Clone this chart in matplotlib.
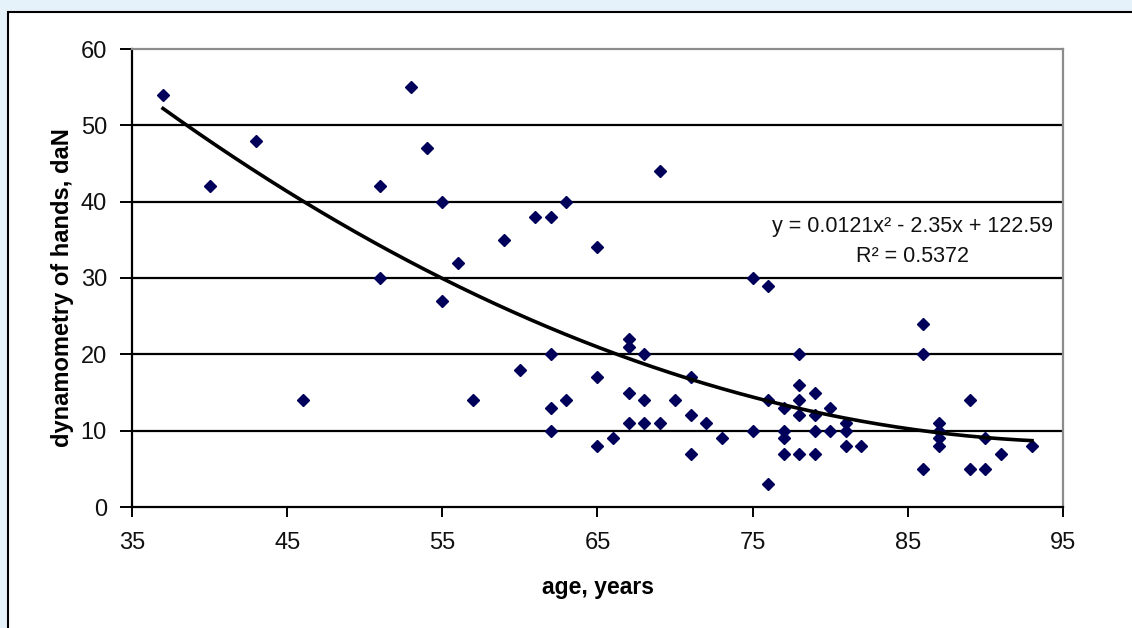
import matplotlib
matplotlib.use("Agg")
import matplotlib.pyplot as plt
import numpy as np
from matplotlib.patches import Rectangle

# ---- data ----
age = [37, 40, 43, 46, 51, 51, 53, 54, 55, 55, 56, 57, 59, 60, 61, 62,
       62, 62, 62, 63, 63, 65, 65, 65, 66, 67, 67, 67, 67, 68, 68, 68,
       69, 69, 70, 71, 71, 71, 72, 73, 75, 75, 76, 76, 76, 77, 77, 77,
       77, 78, 78, 78, 78, 78, 79, 79, 79, 79, 80, 80, 81, 81, 81, 82,
       86, 86, 86, 87, 87, 87, 87, 89, 89, 90, 90, 91, 93]
dyn = [54, 42, 48, 14, 42, 30, 55, 47, 40, 27, 32, 14, 35, 18, 38, 38,
       20, 13, 10, 40, 14, 34, 17, 8, 9, 22, 21, 15, 11, 20, 14, 11,
       44, 11, 14, 17, 12, 7, 11, 9, 30, 10, 29, 14, 3, 13, 10, 9,
       7, 20, 16, 14, 12, 7, 15, 12, 10, 7, 13, 10, 11, 10, 8, 8,
       24, 20, 5, 11, 10, 9, 8, 14, 5, 9, 5, 7, 8]

trend_coef = [0.0121, -2.35, 122.59]   # y = a x^2 + b x + c
trend_range = [37, 93]
equation_text = "y = 0.0121x² - 2.35x + 122.59\nR² = 0.5372"

x_ticks = [35, 45, 55, 65, 75, 85, 95]
y_ticks = [0, 10, 20, 30, 40, 50, 60]
x_label = "age, years"
y_label = "dynamometry of hands, daN"

plt.rcParams['font.family'] = ['Liberation Sans', 'DejaVu Sans']

W, H = 1132, 628
fig = plt.figure(figsize=(W / 100, H / 100), dpi=100)
fig.patch.set_facecolor('#e6f2fa')

# background axes with the outer chart frame
bg = fig.add_axes([0, 0, 1, 1], zorder=-1)
bg.set_xlim(0, W)
bg.set_ylim(H, 0)
bg.axis('off')
bg.add_patch(Rectangle((8, 12), W + 20, H + 20, facecolor='white',
                       edgecolor='black', linewidth=1.5))

ax = fig.add_axes([132 / W, (H - 507) / H, (1063 - 132) / W, (507 - 49) / H],
                  zorder=1)
ax.set_facecolor('white')
ax.set_xlim(x_ticks[0], x_ticks[-1])
ax.set_ylim(y_ticks[0], y_ticks[-1])
ax.set_xticks(x_ticks)
ax.set_yticks(y_ticks)

# gridlines
for yv in y_ticks[1:-1]:
    ax.axhline(yv, color='black', linewidth=1.6, zorder=1)

for side in ['top', 'right']:
    ax.spines[side].set_color('#8c8c8c')
    ax.spines[side].set_linewidth(1.6)
for side in ['left', 'bottom']:
    ax.spines[side].set_color('black')
    ax.spines[side].set_linewidth(1.6)

ax.tick_params(axis='both', direction='out', color='black', width=1.4,
               labelsize=17, labelcolor='#111111')
ax.tick_params(axis='y', length=9, pad=9)
ax.tick_params(axis='x', length=7, pad=11)

# scatter
ax.plot(age, dyn, linestyle='none', marker='D', markersize=6.5,
        color='#00005a', zorder=3, clip_on=False)

# trendline
xs = np.linspace(trend_range[0], trend_range[1], 200)
ys = np.polyval(trend_coef, xs)
ax.plot(xs, ys, color='black', linewidth=2.6, zorder=4)

ax.text(85.3, 34.8, equation_text, ha='center', va='center',
        multialignment='center', fontsize=15.5, color='#111111',
        linespacing=1.55, zorder=5)

ax.set_xlabel(x_label, fontsize=16.5, fontweight='bold', labelpad=16)
ax.set_ylabel(y_label, fontsize=17, fontweight='bold', labelpad=5)
ax.yaxis.label.set_y(0.48)

fig.savefig('out.png', dpi=100, facecolor=fig.get_facecolor())
